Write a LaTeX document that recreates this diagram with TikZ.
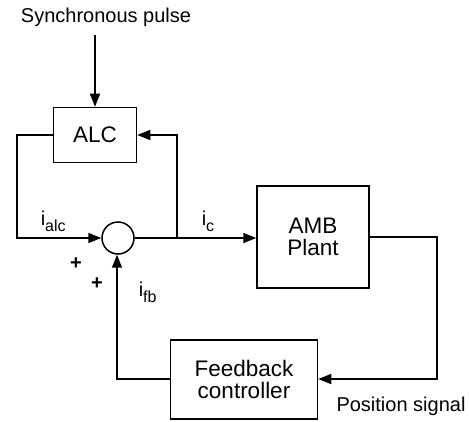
\documentclass[tikz,border=0pt]{standalone}
\usepackage{fontspec}
\setmainfont{Liberation Sans}
\usetikzlibrary{arrows.meta}
\begin{document}
\begin{tikzpicture}[x=1pt,y=-1pt,
  line width=1.5pt,
  lbl/.style={font=\fontsize{20}{23}\selectfont, inner sep=0pt},
  blk/.style={draw, inner sep=0pt, font=\fontsize{22.5}{25}\selectfont, align=center},
  arr/.style={-{Triangle[length=13pt,width=10pt]}},
  pls/.style={font=\bfseries\fontsize{20}{20}\selectfont, inner sep=0pt}]
\useasboundingbox (0,0) rectangle (469,422);
% blocks
\node[blk, minimum width=83pt, minimum height=55pt] (alc) at (95,135) {ALC};
\node[blk, minimum width=112pt, minimum height=102pt] (amb) at (313,237) {AMB\\[-3pt]Plant};
\node[blk, minimum width=147pt, minimum height=79pt] (fb) at (244,379.5) {Feedback\\[-3pt]controller};
\node[draw, circle, minimum size=32pt, inner sep=0pt] (sum) at (118,238) {};
% coordinates
\coordinate (top) at (95,35);
\coordinate (la) at (17,135);
\coordinate (lb) at (17,238);
\coordinate (br) at (177,238);
\coordinate (bt) at (177,135);
\coordinate (ra) at (437,237);
\coordinate (rb) at (437,379);
\coordinate (fa) at (117,379);
% labels
\node[lbl] (sync) at (106,17) {Synchronous pulse};
\node[lbl] (pos) at (401,406) {Position signal};
\node[lbl, anchor=base west] (ialc) at (40,226) {i\raisebox{-6pt}{\fontsize{16}{16}\selectfont alc}};
\node[lbl, anchor=base west] (ic) at (201,226) {i\raisebox{-6pt}{\fontsize{16}{16}\selectfont c}};
\node[lbl, anchor=base west] (ifb) at (138,297) {i\raisebox{-6pt}{\fontsize{16}{16}\selectfont fb}};
\node[pls] (p1) at (76,264) {+};
\node[pls] (p2) at (97,284) {+};
% connectors
\draw[arr] (top) -- (alc.north);
\draw[arr] (alc.west) -- (la) -- (lb) -- (sum.west);
\draw (sum.east) -- (br);
\draw[arr] (br) -- (bt) -- (alc.east);
\draw[arr] (br) -- (amb.west |- br);
\draw[arr] (amb.east |- ra) -- (ra) -- (rb) -- (fb.east |- rb);
\draw[arr] (fb.west |- fa) -- (fa) -- (sum.south -| fa);
\end{tikzpicture}
\end{document}
